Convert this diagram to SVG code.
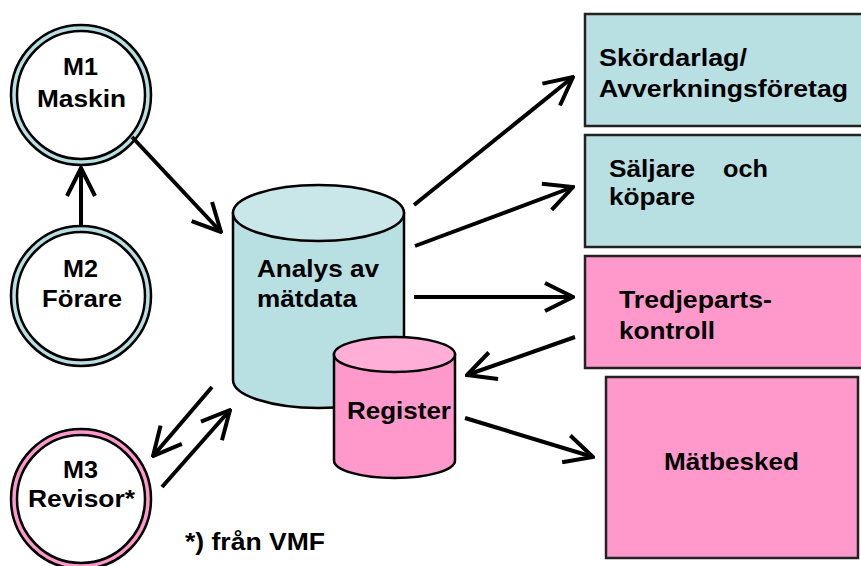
<svg xmlns="http://www.w3.org/2000/svg" width="861" height="566" viewBox="0 0 861 566">
<defs>
<style>
.t{font-family:"Liberation Sans",Arial,sans-serif;font-weight:bold;font-size:24px;fill:#000}
.ring-b{fill:#b8dfe2;stroke:#000;stroke-width:2.5}
.ring-p{fill:#ff99cc;stroke:#000;stroke-width:2.5}
.inner{fill:#fff;stroke:#000;stroke-width:2.5}
.box-b{fill:#b8dfe2;stroke:#222;stroke-width:2.5}
.box-p{fill:#ff99cc;stroke:#222;stroke-width:2.5}
.cyl{stroke:#000;stroke-width:2.5}
.c{fill:none;stroke:#000;stroke-width:4;marker-end:url(#ah)}
</style>
<marker id="ah" viewBox="-32 -16 34 32" refX="0" refY="0" markerWidth="34" markerHeight="32" markerUnits="userSpaceOnUse" orient="auto">
<path d="M-28,-14 L0,0 L-28,14" fill="none" stroke="#000" stroke-width="4"/>
</marker>
</defs>
<rect width="861" height="566" fill="#fff"/>

<g id="m1">
<circle class="ring-b" cx="81" cy="95" r="70"/>
<circle class="inner" cx="81" cy="95" r="64"/>
<text class="t" x="63" y="75" textLength="35" lengthAdjust="spacingAndGlyphs">M1</text>
<text class="t" x="37" y="107" textLength="89" lengthAdjust="spacingAndGlyphs">Maskin</text>
</g>
<g id="m2">
<circle class="ring-b" cx="81" cy="296" r="70"/>
<circle class="inner" cx="81" cy="296" r="64"/>
<text class="t" x="63" y="277" textLength="35" lengthAdjust="spacingAndGlyphs">M2</text>
<text class="t" x="42" y="307" textLength="80" lengthAdjust="spacingAndGlyphs">Förare</text>
</g>
<g id="m3">
<circle class="ring-p" cx="81" cy="499" r="70"/>
<circle class="inner" cx="81" cy="499" r="64"/>
<text class="t" x="63" y="478" textLength="35" lengthAdjust="spacingAndGlyphs">M3</text>
<text class="t" x="28" y="507" textLength="107" lengthAdjust="spacingAndGlyphs">Revisor*</text>
</g>

<g id="analys">
<path class="cyl" fill="#b8dfe2" d="M233,213 L233,380 A85.5,28 0 0 0 404,380 L404,213 Z"/>
<ellipse class="cyl" fill="#c9e6e8" cx="318.5" cy="213" rx="85.5" ry="28"/>
<text class="t" x="257" y="277" textLength="122" lengthAdjust="spacingAndGlyphs">Analys av</text>
<text class="t" x="257" y="307" textLength="100" lengthAdjust="spacingAndGlyphs">mätdata</text>
</g>
<g id="register">
<path class="cyl" fill="#ff99cc" d="M334,354.5 L334,460.5 A60.5,17.5 0 0 0 455,460.5 L455,354.5 Z"/>
<ellipse class="cyl" fill="#ffaed8" cx="394.5" cy="354.5" rx="60.5" ry="17.5"/>
<text class="t" x="347" y="419" textLength="104" lengthAdjust="spacingAndGlyphs">Register</text>
</g>

<g id="skordarlag">
<rect class="box-b" x="585" y="14" width="290" height="112"/>
<text class="t" x="599" y="66" textLength="148" lengthAdjust="spacingAndGlyphs">Skördarlag/</text>
<text class="t" x="599" y="97" textLength="249" lengthAdjust="spacingAndGlyphs">Avverkningsföretag</text>
</g>
<g id="saljare">
<rect class="box-b" x="585" y="135" width="290" height="112"/>
<text class="t" x="609" y="177" textLength="86" lengthAdjust="spacingAndGlyphs">Säljare</text>
<text class="t" x="723" y="177" textLength="45" lengthAdjust="spacingAndGlyphs">och</text>
<text class="t" x="609" y="205" textLength="86" lengthAdjust="spacingAndGlyphs">köpare</text>
</g>
<g id="tredjeparts">
<rect class="box-p" x="585" y="256" width="290" height="112"/>
<text class="t" x="619" y="308" textLength="153" lengthAdjust="spacingAndGlyphs">Tredjeparts-</text>
<text class="t" x="619" y="339" textLength="96" lengthAdjust="spacingAndGlyphs">kontroll</text>
</g>
<g id="matbesked">
<rect class="box-p" x="606" y="377" width="252" height="181"/>
<text class="t" x="664" y="470" textLength="135" lengthAdjust="spacingAndGlyphs">Mätbesked</text>
</g>

<g id="connectors">
<line class="c" x1="132" y1="137" x2="221" y2="232"/>
<line class="c" x1="81" y1="225" x2="81" y2="168"/>
<line class="c" x1="414" y1="205" x2="573" y2="77"/>
<line class="c" x1="415" y1="246" x2="573" y2="187"/>
<line class="c" x1="414" y1="297" x2="573" y2="297"/>
<line class="c" x1="575" y1="337" x2="467" y2="375"/>
<line class="c" x1="465" y1="418" x2="593" y2="457"/>
<line class="c" x1="212" y1="387" x2="153" y2="456"/>
<line class="c" x1="162" y1="487" x2="230" y2="410"/>
</g>

<text class="t" x="185" y="550" textLength="140" lengthAdjust="spacingAndGlyphs">*) från VMF</text>
</svg>
